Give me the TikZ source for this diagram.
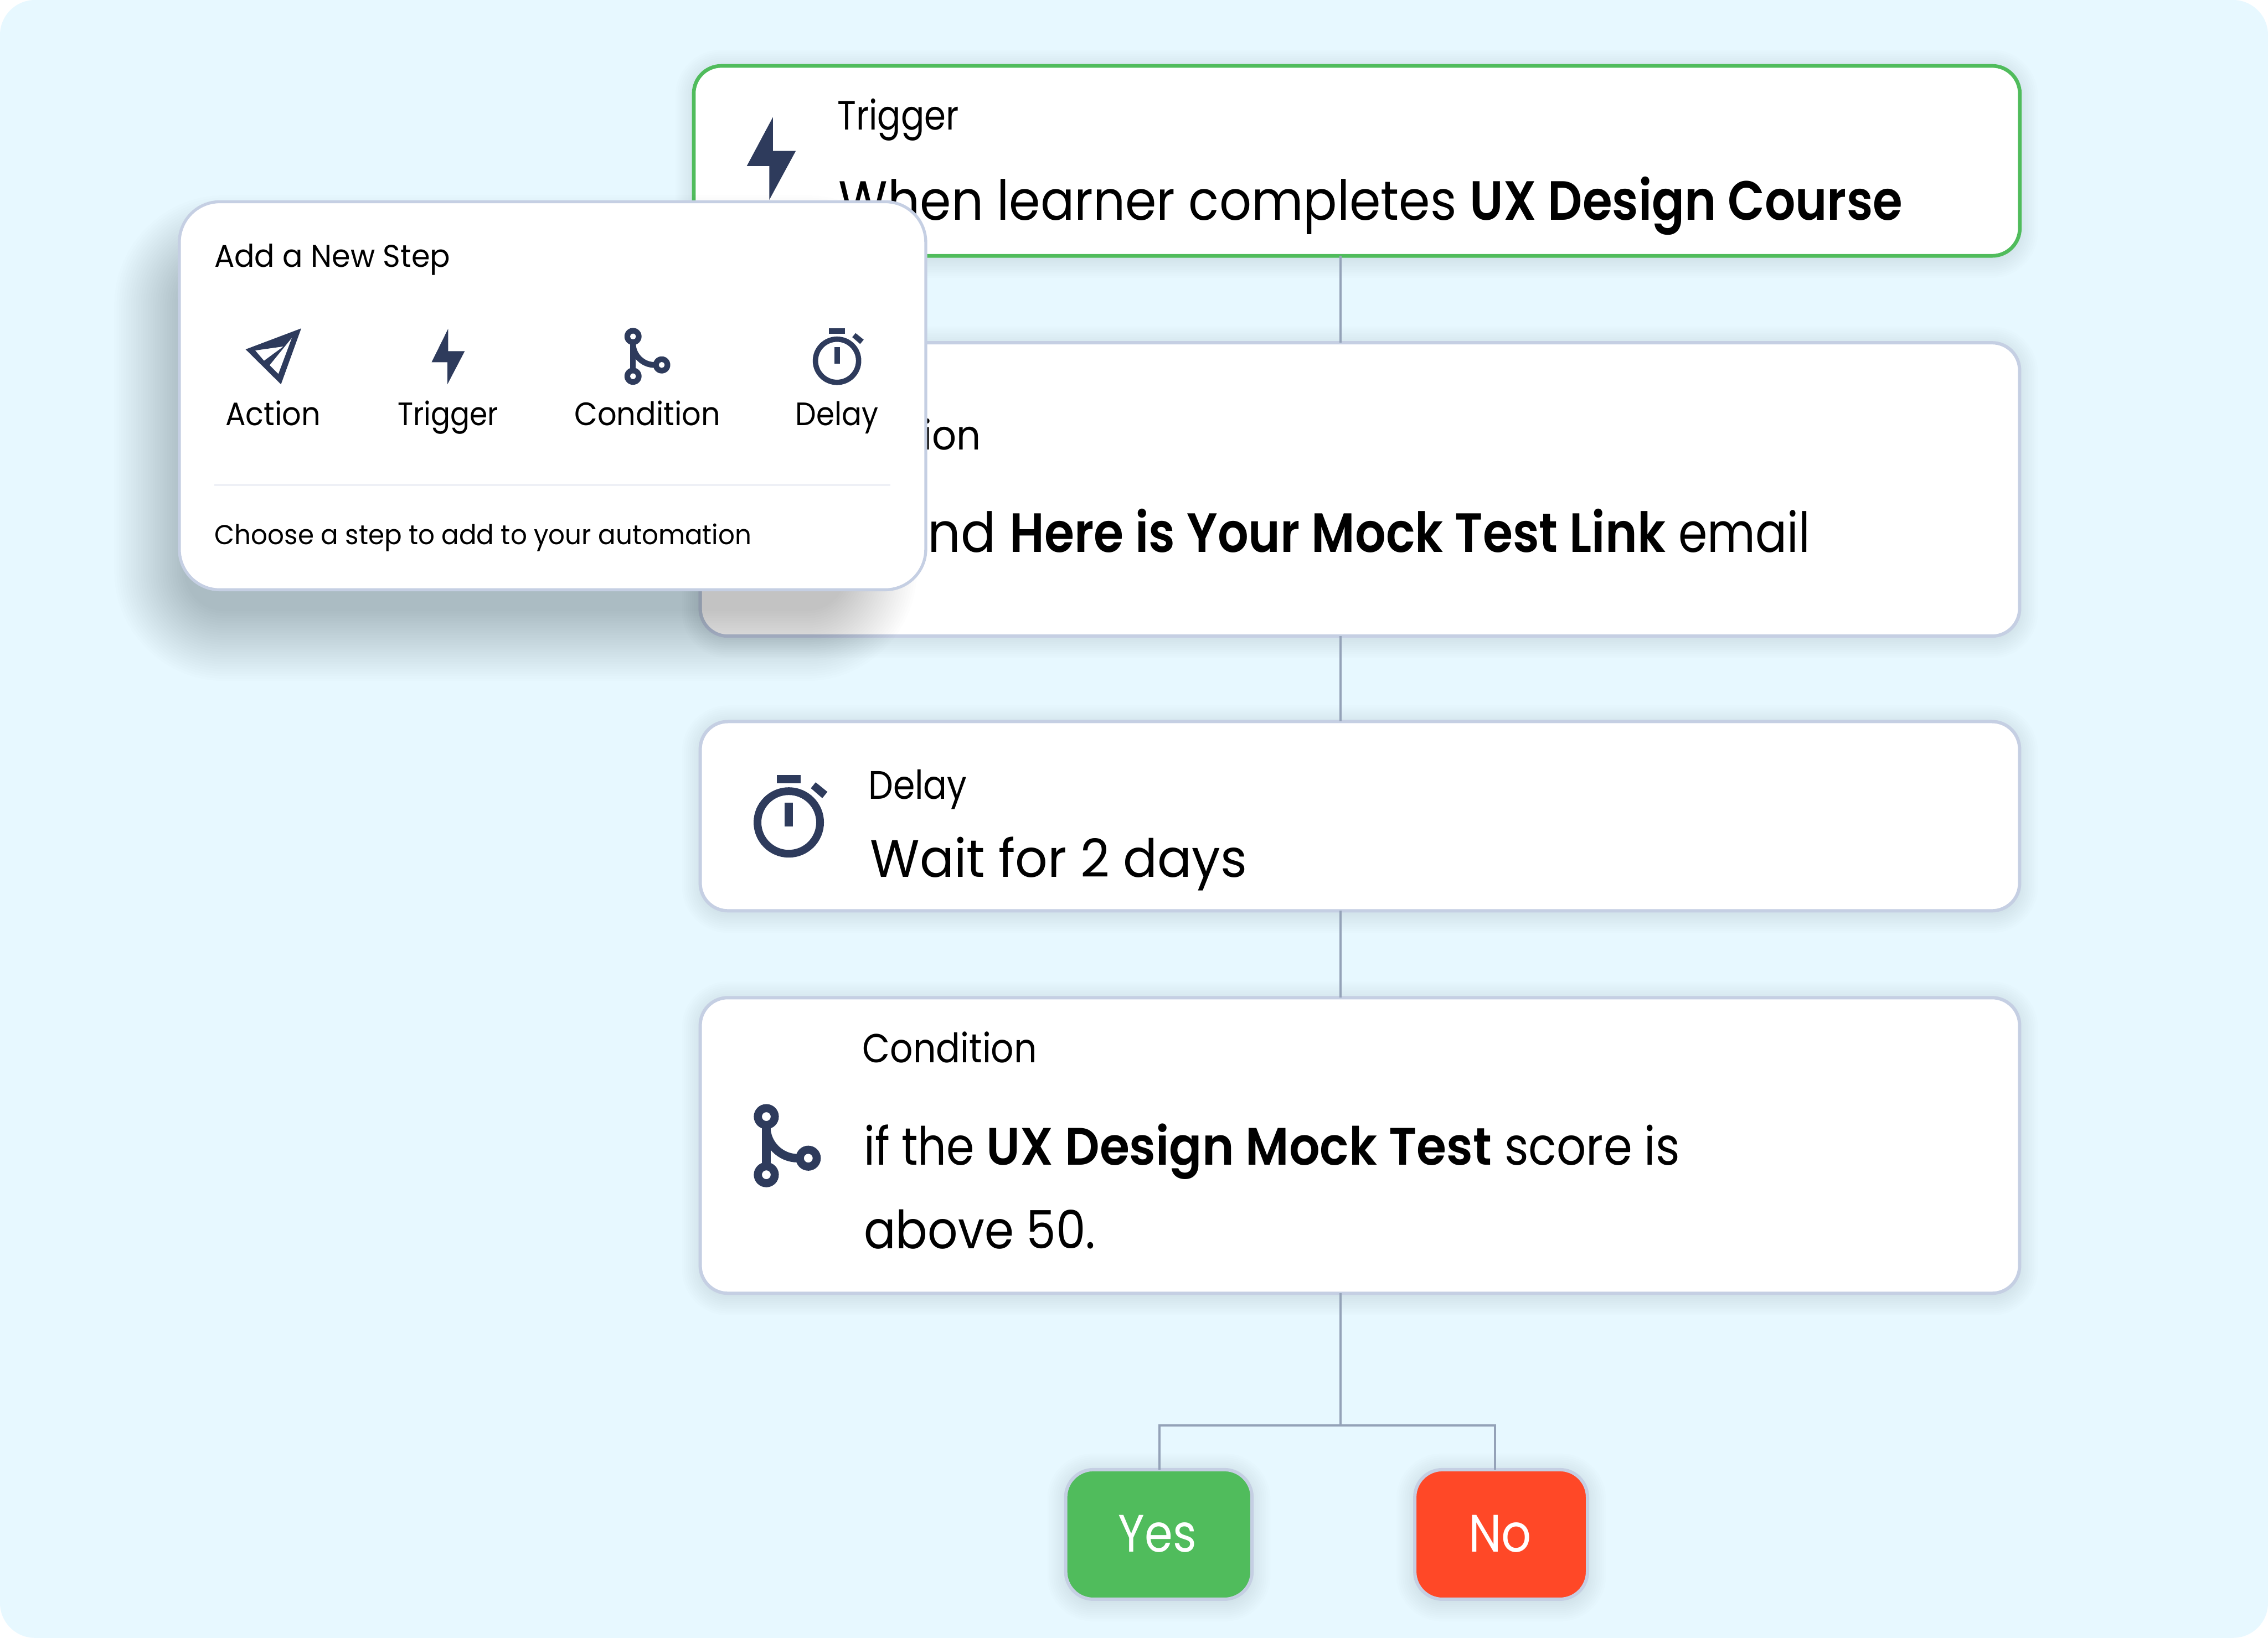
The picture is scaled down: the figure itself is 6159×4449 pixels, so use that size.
\documentclass[tikz,border=0pt]{standalone}
\usepackage{graphicx}
\usepackage{fontspec}
\setmainfont{Poppins}[BoldFont={Poppins SemiBold}]
\definecolor{bgc}{HTML}{E7F8FF}
\definecolor{navy}{HTML}{2E3B5C}
\definecolor{edgec}{HTML}{C5CFE3}
\definecolor{greenc}{HTML}{50BC5C}
\definecolor{redc}{HTML}{FF4827}
\definecolor{linkc}{HTML}{94A2B8}
\definecolor{divc}{HTML}{EEF0F6}
\definecolor{shc}{HTML}{2F4A68}
\definecolor{popshc}{HTML}{182430}
\newsavebox\lblbox
% text squeezed to a measured width inside its node
\newcommand\fitted[4]{%
  \pgfmathsetlengthmacro\lblfs{#2*0.28453}%
  \sbox\lblbox{\fontsize{\lblfs}{\lblfs}\selectfont\textcolor{#3}{#4}}%
  \pgfmathsetmacro\lblr{#1*0.28453/\the\wd\lblbox}%
  \scalebox{\lblr}[1]{\usebox\lblbox}%
}
% [colour]{name}{x}{baseline}{width}{size}{text}, all in reference pixels
\newcommand\lbl[7][black]{%
  \node[textnode] (#2) at (#3,#4) {\fitted{#5}{#6}{#1}{#7}};%
}
% {x1}{y1}{x2}{y2}{radius}{blur}{steps}{opacity per step}{colour}
\newcommand\softshadow[9]{%
  \foreach \i in {1,...,#7}{%
    \pgfmathsetmacro\e{#6*(1-(\i-1)/(#7-1))}%
    \pgfmathsetlengthmacro\rc{(#5+\e)*0.28453}%
    \fill[#9,opacity=#8,rounded corners=\rc] (#1-\e,#2-\e) rectangle (#3+\e,#4+\e);
  }%
}
\newcommand\condicon[3]{%
  \begin{scope}[shift={(#1,#2)},scale=#3]
    \pgfmathsetlengthmacro\ilw{23*#3*0.28453}
    \draw[navy,line width=\ilw] (0,-50) -- (0,50);
    \draw[navy,line width=\ilw] (0,-50) .. controls (0,-5) and (38,34) .. (85,34);
    \fill[navy,even odd rule] (0,-79) circle[radius=34] (0,-79) circle[radius=12];
    \fill[navy,even odd rule] (0,79) circle[radius=34] (0,79) circle[radius=12];
    \fill[navy,even odd rule] (114,34) circle[radius=34] (114,34) circle[radius=12];
  \end{scope}%
}
\newcommand\timericon[3]{%
  \begin{scope}[shift={(#1,#2)},scale=#3]
    \pgfmathsetlengthmacro\ilw{21*#3*0.28453}
    \draw[navy,line width=\ilw] (0,0) circle[radius=85];
    \fill[navy] (-32,-129) rectangle (32,-107);
    \fill[navy] (-11,-54) rectangle (11,11);
    \fill[navy] (73,-109) -- (105,-83) -- (91,-66) -- (60,-93) -- cycle;
  \end{scope}%
}
\tikzset{
  px/.style={line width=#1*0.28453pt},
  boxnode/.style={rectangle,inner sep=0pt,outer sep=0pt,fill=white,draw=edgec,px=9,rounded corners=0.75cm},
  textnode/.style={anchor=base west,inner sep=0pt,outer sep=0pt},
  link/.style={draw=linkc,px=6}
}
\begin{document}
\begin{tikzpicture}[x=0.01cm,y=-0.01cm]
\useasboundingbox (0,0) rectangle (6159,4449);
\fill[white] (0,0) rectangle (6159,4449);
\fill[bgc,rounded corners=0.95cm] (0,0) rectangle (6159,4449);

% soft shadows under the cards
\softshadow{1884}{185}{5484}{705}{75}{50}{10}{0.006}{shc}
\softshadow{1902}{937}{5484}{1738}{75}{50}{10}{0.006}{shc}
\softshadow{1902}{1966}{5484}{2484}{75}{50}{10}{0.006}{shc}
\softshadow{1902}{2716}{5484}{3523}{75}{50}{10}{0.006}{shc}
\softshadow{2894}{3998}{3400}{4354}{73}{50}{10}{0.006}{shc}
\softshadow{3842}{3998}{4311}{4354}{73}{50}{10}{0.006}{shc}

% anchors for the connector lines
\coordinate (spine) at (3641,0);
\coordinate (fork) at (3641,3872);
\coordinate (yesdrop) at (3149,3872);
\coordinate (nodrop) at (4060,3872);

% cards (centre, size)
\node[boxnode,draw=greenc,px=10,minimum width=3601*0.01cm,minimum height=516*0.01cm] (trigger) at (3684.5,437) {};
\node[boxnode,minimum width=3583*0.01cm,minimum height=797*0.01cm] (action) at (3693,1329.5) {};
\node[boxnode,minimum width=3583*0.01cm,minimum height=514*0.01cm] (delay) at (3693,2217) {};
\node[boxnode,minimum width=3583*0.01cm,minimum height=803*0.01cm] (condition) at (3693,3111.5) {};
\node[boxnode,fill=greenc,minimum width=506*0.01cm,minimum height=352*0.01cm] (yes) at (3147,4168) {};
\node[boxnode,fill=redc,minimum width=469*0.01cm,minimum height=352*0.01cm] (no) at (4076.5,4168) {};

% connectors
\draw[link] (trigger.south -| spine) -- (action.north -| spine);
\draw[link] (action.south -| spine) -- (delay.north -| spine);
\draw[link] (delay.south -| spine) -- (condition.north -| spine);
\draw[link] (condition.south -| spine) -- (fork);
\draw[link] (yes.north -| yesdrop) -- (yesdrop) -- (nodrop) -- (no.north -| nodrop);

% icons of the cards
\fill[navy] (2099,318) -- (2099,410) -- (2161,410) -- (2089,543) -- (2089,451) -- (2028,451) -- cycle;
\timericon{2142}{2234}{1}
\condicon{2081}{3112}{1}

% card texts
\lbl{ttrig}{2274}{353}{330}{111}{Trigger}
\node[textnode] (ttrigb) at (2278,597) {\fitted{1713}{150}{black}{When learner completes }\fitted{1174}{150}{black}{\textbf{UX Design Course}}};
\lbl{tact}{2335}{1221}{328}{111}{Action}
\node[textnode] (tactb) at (2350,1500) {\fitted{392}{150}{black}{Send }\fitted{1815}{150}{black}{\textbf{Here is Your Mock Test Link} }\fitted{357}{150}{black}{email}};
\lbl{tdel}{2358}{2170}{268}{108}{Delay}
\lbl{tdelb}{2363}{2383}{1023}{143}{Wait for 2 days}
\lbl{tcond}{2342}{2886}{474}{110}{Condition}
\node[textnode] (tcondb) at (2346,3165) {\fitted{333}{143}{black}{if the }\fitted{1406}{143}{black}{\textbf{UX Design Mock Test} }\fitted{476}{143}{black}{score is}};
\lbl{tcondc}{2346}{3391}{629}{143}{above 50.}
\lbl[white]{tyes}{3037}{4216}{212}{143}{Yes}
\lbl[white]{tno}{3988}{4216}{171}{143}{No}

% pop-up
\softshadow{500}{720}{2300}{1660}{110}{190}{30}{0.0065}{popshc}
\node[boxnode,px=8,rounded corners=1.1cm,minimum width=2027*0.01cm,minimum height=1054*0.01cm] (popup) at (1500.5,1075) {};
\lbl{padd}{582}{725}{640}{85}{Add a New Step}
\fill[navy,even odd rule] (818,892) -- (667,949) -- (763,1044) -- cycle
  (693,952) -- (770,941) -- (717,980) -- cycle
  (732,992) -- (793,917) -- (756,1016) -- cycle;
\fill[navy] (1217,893) -- (1217,954) -- (1262,954) -- (1215,1044) -- (1215,984) -- (1172,984) -- cycle;
\condicon{1719}{968}{0.684}
\timericon{2273}{980}{0.69}
\lbl{pact}{612}{1155}{258}{88}{Action}
\lbl{ptrig}{1080}{1155}{273}{88}{Trigger}
\lbl{pcond}{1560}{1155}{396}{88}{Condition}
\lbl{pdel}{2160}{1155}{225}{88}{Delay}
\draw[divc,px=6] (582,1317) -- (2418,1317);
\lbl{pfoot}{583}{1479}{1457}{74}{Choose a step to add to your automation}
\end{tikzpicture}
\end{document}
